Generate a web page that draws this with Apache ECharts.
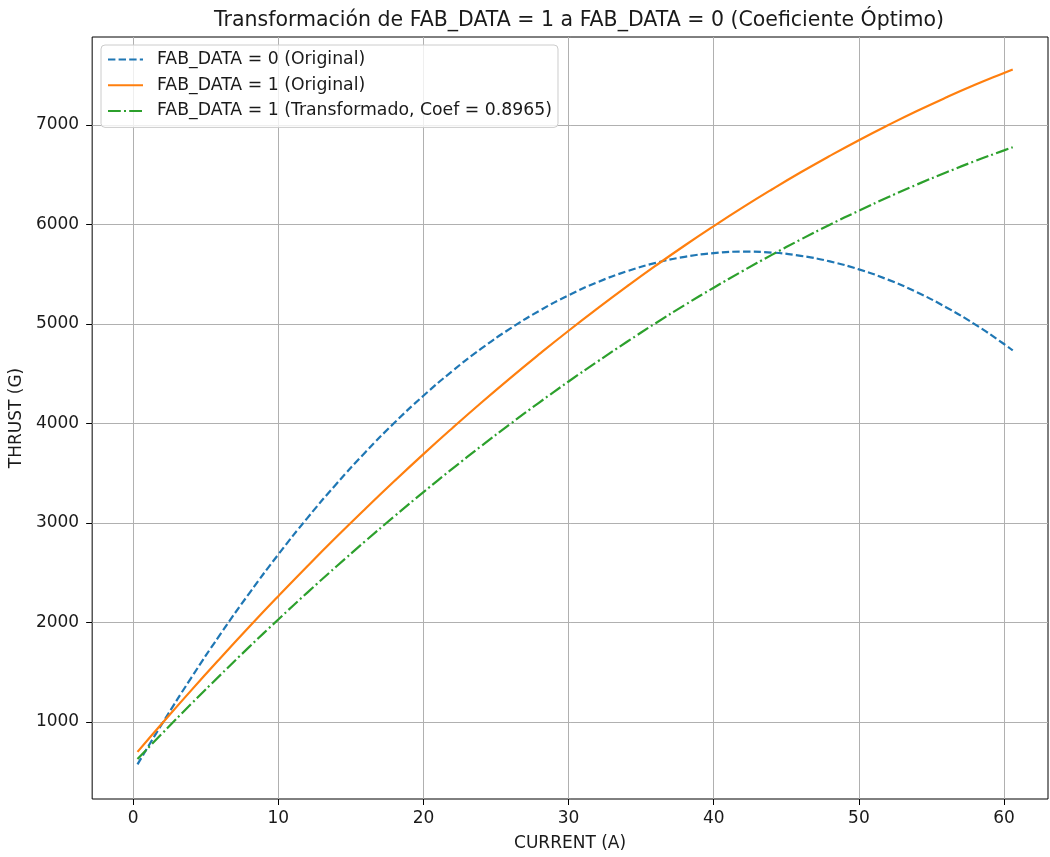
<!DOCTYPE html>
<html>
<head>
<meta charset="utf-8">
<script src="https://cdn.jsdelivr.net/npm/echarts@6/dist/echarts.min.js"></script>
<style>
html,body{margin:0;padding:0;background:#fff;}
#chart{width:1050px;height:857px;}
</style>
</head>
<body>
<div id="chart"></div>
<script>
// Data
const currentA = [0.3, 2, 4, 6, 8, 10, 12, 14, 16, 18, 20, 22, 24, 26, 28, 30, 32, 34, 36, 38, 40, 42, 44, 46, 48, 50, 52, 54, 56, 58, 60, 60.6];
const thrustFab0 = [573, 983, 1443, 1880, 2293, 2683, 3049, 3392, 3711, 4007, 4279, 4528, 4754, 4956, 5134, 5289, 5421, 5529, 5614, 5675, 5713, 5727, 5718, 5685, 5629, 5549, 5446, 5319, 5169, 4996, 4799, 4735];
const thrustFab1 = [699, 986, 1317, 1640, 1956, 2264, 2565, 2858, 3143, 3421, 3692, 3955, 4211, 4459, 4699, 4932, 5157, 5375, 5586, 5789, 5984, 6172, 6352, 6525, 6690, 6848, 6998, 7141, 7276, 7404, 7524, 7559];
const thrustFab1Transf = [627, 884, 1181, 1470, 1754, 2030, 2300, 2562, 2818, 3067, 3310, 3546, 3775, 3997, 4213, 4422, 4623, 4819, 5008, 5190, 5365, 5533, 5695, 5850, 5998, 6139, 6274, 6402, 6523, 6638, 6745, 6777];
const xTicks = [0, 10, 20, 30, 40, 50, 60];
const yTicks = [1000, 2000, 3000, 4000, 5000, 6000, 7000];
const seriesNames = ['FAB_DATA = 0 (Original)', 'FAB_DATA = 1 (Original)', 'FAB_DATA = 1 (Transformado, Coef = 0.8965)'];

const pairs = ys => currentA.map((x, i) => [x, ys[i]]);
const FONT = 'DejaVu Sans';
const TXT = '#1a1a1a';

const chart = echarts.init(document.getElementById('chart'), null, {renderer: 'canvas'});
chart.setOption({
  animation: false,
  backgroundColor: '#fff',
  textStyle: {fontFamily: FONT},
  title: {
    text: 'Transformación de FAB_DATA = 1 a FAB_DATA = 0 (Coeficiente Óptimo)',
    left: 574, top: 5, textAlign: 'center',
    textStyle: {fontFamily: FONT, fontSize: 20.5, fontWeight: 'normal', color: TXT}
  },
  grid: {
    left: 92, right: 2, top: 37, bottom: 54,
    show: true, borderColor: '#000', borderWidth: 1, backgroundColor: 'transparent'
  },
  legend: {
    orient: 'vertical', left: 101, top: 45,
    itemWidth: 35, itemHeight: 17, itemGap: 8.7,
    padding: [6, 6, 8, 6],
    backgroundColor: 'rgba(255,255,255,0.8)',
    borderColor: '#cccccc', borderWidth: 1, borderRadius: 4,
    itemStyle: {opacity: 0},
    textStyle: {fontFamily: FONT, fontSize: 17.3, color: TXT, padding: [0, 0, 0, 9]},
    data: seriesNames
  },
  xAxis: {
    type: 'value', min: -2.824, max: 63.03,
    name: 'CURRENT (A)', nameLocation: 'middle', nameGap: 36,
    nameTextStyle: {fontFamily: FONT, fontSize: 17, color: TXT},
    axisLine: {show: false, onZero: false},
    axisTick: {show: true, inside: false, length: 6, customValues: xTicks, lineStyle: {color: '#000', width: 1}},
    axisLabel: {customValues: xTicks, margin: 11, fontFamily: FONT, fontSize: 17, color: TXT},
    splitLine: {show: true, lineStyle: {color: '#b0b0b0', width: 1}}
  },
  yAxis: {
    type: 'value', min: 225, max: 7885, position: 'left',
    name: 'THRUST (G)', nameLocation: 'middle', nameGap: 65, nameRotate: 90,
    nameTextStyle: {fontFamily: FONT, fontSize: 17, color: TXT},
    axisLine: {show: false, onZero: false},
    axisTick: {show: true, inside: false, length: 6, customValues: yTicks, lineStyle: {color: '#000', width: 1}},
    axisLabel: {customValues: yTicks, margin: 13, fontFamily: FONT, fontSize: 17, color: TXT,
      formatter: v => String(v)},
    splitLine: {show: true, lineStyle: {color: '#b0b0b0', width: 1}}
  },
  series: [
    {
      name: seriesNames[0], type: 'line', data: pairs(thrustFab0), smooth: true,
      symbol: 'none', z: 3,
      lineStyle: {color: '#1f77b4', width: 2.2, type: [7.4, 3.2]},
      itemStyle: {color: '#1f77b4'}
    },
    {
      name: seriesNames[1], type: 'line', data: pairs(thrustFab1), smooth: true,
      symbol: 'none', z: 4,
      lineStyle: {color: '#ff7f0e', width: 2.2, type: 'solid'},
      itemStyle: {color: '#ff7f0e'}
    },
    {
      name: seriesNames[2], type: 'line', data: pairs(thrustFab1Transf), smooth: true,
      symbol: 'none', z: 5,
      lineStyle: {color: '#2ca02c', width: 2.2, type: [12.8, 3.2, 2, 3.2]},
      itemStyle: {color: '#2ca02c'}
    }
  ]
});
</script>
</body>
</html>
